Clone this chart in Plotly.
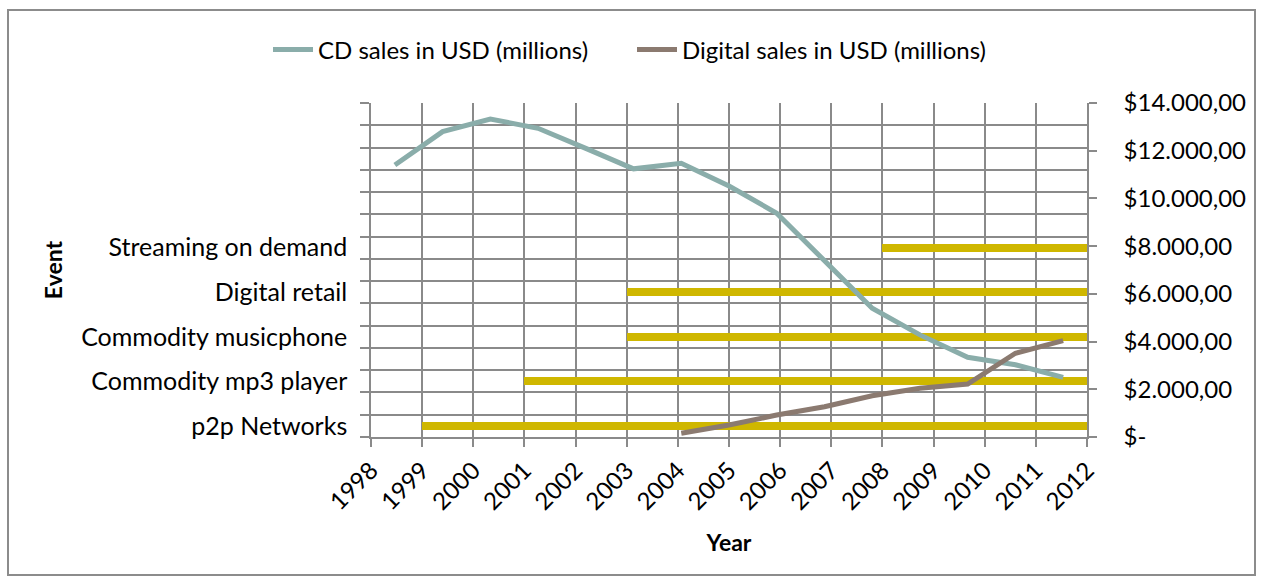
import plotly.graph_objects as go

# ---- data ----
years = [1998, 1999, 2000, 2001, 2002, 2003, 2004, 2005, 2006, 2007, 2008, 2009, 2010, 2011, 2012]
cd_sales = [11400, 12800, 13330, 12940, 12100, 11240, 11470, 10520, 9380, 7420, 5400, 4280, 3340, 3030, 2500]
digital_years = [2004, 2005, 2006, 2007, 2008, 2009, 2010, 2011, 2012]
digital_sales = [155, 500, 920, 1270, 1730, 2040, 2220, 3510, 4040]

events = ["p2p Networks", "Commodity mp3 player", "Commodity musicphone", "Digital retail", "Streaming on demand"]
event_start = [1999, 2001, 2003, 2003, 2008]
event_end = [2012, 2012, 2012, 2012, 2012]

money_ticks = [0, 2000, 4000, 6000, 8000, 10000, 12000, 14000]
money_labels = ["$-", "$2.000,00", "$4.000,00", "$6.000,00", "$8.000,00", "$10.000,00", "$12.000,00", "$14.000,00"]

# ---- layout constants ----
W, H = 1263, 583
L, R, T, B = 371, 176, 103, 146
FONT = "Lato"
FS = 24
GRID = "#8a8a8a"
GW = 1.5
n_bands = 15
event_pos = [2 * i + 0.5 for i in range(len(events))]

fig = go.Figure()

fig.add_trace(go.Bar(
    y=event_pos, x=[e - s for s, e in zip(event_start, event_end)], base=event_start,
    orientation="h", width=0.36, marker=dict(color="#CFB700", line=dict(width=0)),
    showlegend=False, xaxis="x", yaxis="y", hoverinfo="skip"))

fig.add_trace(go.Scatter(
    x=years, y=cd_sales, mode="lines", name="CD sales in USD (millions)",
    line=dict(color="#8AADAA", width=5), xaxis="x2", yaxis="y2", legend="legend"))
fig.add_trace(go.Scatter(
    x=digital_years, y=digital_sales, mode="lines", name="Digital sales in USD (millions)",
    line=dict(color="#8B7A70", width=5), xaxis="x2", yaxis="y2", legend="legend2"))

pw = W - L - R
ph = H - T - B
def px(xp):
    return (xp - L) / pw
def py(yp):
    return 1 - (yp - T) / ph

leg_common = dict(orientation="h", xanchor="left", yanchor="middle", y=py(50),
                  font=dict(size=FS), bgcolor="rgba(0,0,0,0)", itemwidth=40)

fig.update_layout(
    width=W, height=H,
    margin=dict(l=L, r=R, t=T, b=B, autoexpand=False),
    paper_bgcolor="white", plot_bgcolor="white",
    font=dict(family=FONT, size=FS, color="black"),
    xaxis=dict(range=[years[0], years[-1]], tickmode="linear", tick0=years[0], dtick=1,
               tickangle=-45, showgrid=True, gridcolor=GRID, gridwidth=GW,
               ticks="outside", ticklen=8, tickcolor=GRID, tickwidth=GW,
               showline=True, linecolor=GRID, linewidth=GW, zeroline=False,
               title=dict(text="<b>Year</b>", font=dict(size=FS - 1), standoff=21),
               tickfont=dict(size=FS)),
    xaxis2=dict(range=[years[0] - 0.5, years[-1] + 0.5], overlaying="x", visible=False),
    yaxis=dict(range=[0, n_bands], tickmode="array", tickvals=event_pos, ticktext=events,
               showgrid=False, ticks="", showline=True, linecolor=GRID, linewidth=GW,
               zeroline=False, ticklabelstandoff=17,
               minor=dict(tickmode="linear", tick0=0, dtick=1, showgrid=True, gridcolor=GRID,
                          gridwidth=GW, ticks="outside", ticklen=9, tickcolor=GRID, tickwidth=GW),
               title=dict(text="<b>Event</b>", font=dict(size=FS - 1), standoff=12),
               tickfont=dict(size=FS + 1)),
    yaxis2=dict(range=[0, 14000], overlaying="y", side="right", tickmode="array",
                tickvals=money_ticks, ticktext=money_labels, showgrid=False, zeroline=False,
                ticks="outside", ticklen=8, tickcolor=GRID, tickwidth=GW,
                showline=True, linecolor=GRID, linewidth=GW, ticklabelstandoff=22,
                tickfont=dict(size=FS)),
    legend=dict(x=px(268), **leg_common),
    legend2=dict(x=px(632), **leg_common),
    bargap=0,
    shapes=[dict(type="rect", xref="paper", yref="paper", x0=px(8), x1=px(1255), y0=py(575), y1=py(10),
                 line=dict(color="#8c8c8c", width=2), fillcolor="rgba(0,0,0,0)", layer="below")],
)

fig.write_html("out.html")
